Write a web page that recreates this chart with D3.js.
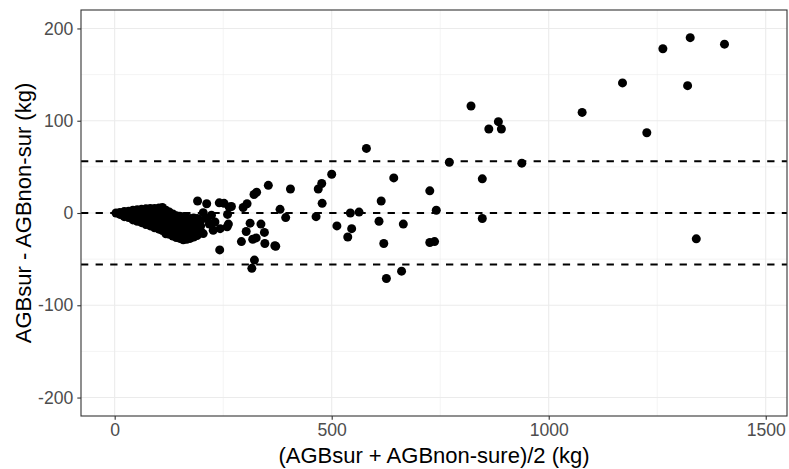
<!DOCTYPE html>
<html>
<head>
<meta charset="utf-8">
<script src="https://cdn.jsdelivr.net/npm/d3@7"></script>
<style>
  html, body { margin: 0; padding: 0; background: #fff; }
  svg { display: block; font-family: "Liberation Sans", Arial, sans-serif; }
</style>
</head>
<body>
<svg id="chart" width="789" height="469"></svg>
<script>
// ---- Data ----
// Dense cluster of small trees: mean of the two estimates (kg)
const clusterMean = [
  3,
  12, 12,
  22, 22, 22,
  32, 32, 32,
  42, 42, 42, 42,
  52, 52, 52, 52,
  62, 62, 62, 62, 62,
  72, 72, 72, 72, 72,
  82, 82, 82, 82, 82, 82,
  92, 92, 92, 92, 92, 92,
  102, 102, 102, 102, 102, 102,
  110, 110, 110, 110, 110, 110, 110,
  118, 118, 118, 118, 118, 118, 118,
  126, 126, 126, 126, 126, 126,
  134, 134, 134, 134, 134, 134,
  142, 142, 142, 142, 142, 142,
  150, 150, 150, 150, 150, 150,
  158, 158, 158, 158, 158, 158,
  166, 166, 166, 166, 166, 166,
  174, 174, 174, 174, 174,
  182, 182, 182, 182, 182,
  190, 190, 190, 190,
  198, 198, 198,
  204, 223, 231, 243, 227, 204, 212, 218
];
// Dense cluster: difference of the two estimates (kg)
const clusterDiff = [
  0,
  0.5, -1.5,
  1.5, -2, -4,
  2, -1.5, -5,
  3, -1, -4, -7.5,
  3.5, 0, -4, -9,
  4, 0, -4, -8, -10.5,
  4.5, 0.5, -4, -8, -12.5,
  5, 1, -3, -7, -11, -14,
  5, 1, -3, -8, -12, -16,
  5.5, 1.5, -3, -8, -13, -17.5,
  6, 2, -2, -6, -11, -15, -19,
  3, -1, -5, -10, -15, -20, -22.5,
  1, -3, -8, -13, -18, -23,
  -1, -5, -10, -15, -20, -25,
  -3, -7, -12, -17, -22, -26.5,
  -3.5, -8, -13, -18, -23, -27.5,
  -4, -9, -14, -19, -24, -29,
  -5.5, -10, -15, -20, -25, -28.5,
  -6, -11, -16, -21, -27.5,
  -5.5, -10, -15, -20, -26,
  -6, -12, -18, -24.5,
  -8, -14, -20,
  0.4, -2.5, -9.7, -17, -18.7, -22.3, -6, -12
];
// Scattered larger trees: mean (kg)
const scatterMean = [
  1405, 1326, 1263, 1170, 1320, 1077, 1226, 1340, 938, 821, 862, 884, 891, 847, 847,
  580, 771, 500, 643, 405, 477, 469, 478, 726, 614, 381, 394, 464, 543, 563, 741,
  512, 546, 609, 665, 537, 620, 726, 737, 369, 661, 626,
  354, 327, 321, 305, 296, 269, 191, 212, 241, 252, 264, 260, 262, 259, 312, 337,
  303, 345, 318, 326, 292, 346, 371, 242, 322, 316
];
// Scattered larger trees: difference (kg)
const scatterDiff = [
  183, 190, 178, 141, 138, 109, 87, -28, 54, 116, 91, 99, 91, 37, -6,
  70, 55, 42, 38, 26, 32, 26, 10.5, 24, 13, 4, -5, -4, 0, 1, 3,
  -14, -17, -9, -12, -26, -33, -32, -31, -35.5, -63, -71,
  30, 22.5, 20, 10, 6, 7, 13, 10, 11, 10.5, 6.5, -1.5, -12, -15, -11, -12,
  -20, -21, -28.5, -27, -31, -33, -36, -40, -51, -60
];
// Bland-Altman reference lines: mean bias and limits of agreement
const refLineValues = [0.1, 56, -55.8];

const xTicks = [0, 500, 1000, 1500];
const xMinorTicks = [250, 750, 1250];
const yTicks = [-200, -100, 0, 100, 200];
const yMinorTicks = [-150, -50, 50, 150];

const xTitle = "(AGBsur + AGBnon-sure)/2 (kg)";
const yTitle = "AGBsur - AGBnon-sur (kg)";

// ---- Layout ----
const panel = { left: 81, right: 787, top: 10, bottom: 416 };
const svg = d3.select("#chart");

const x = d3.scaleLinear().domain([-77.6, 1549]).range([panel.left, panel.right]);
const y = d3.scaleLinear().domain([-220, 220]).range([panel.bottom, panel.top]);

const grid = svg.append("g");
// minor grid
grid.selectAll(".xminor").data(xMinorTicks).enter().append("line")
  .attr("x1", d => x(d)).attr("x2", d => x(d))
  .attr("y1", panel.top).attr("y2", panel.bottom)
  .attr("stroke", "#EBEBEB").attr("stroke-width", 0.55);
grid.selectAll(".yminor").data(yMinorTicks).enter().append("line")
  .attr("y1", d => y(d)).attr("y2", d => y(d))
  .attr("x1", panel.left).attr("x2", panel.right)
  .attr("stroke", "#EBEBEB").attr("stroke-width", 0.55);
// major grid
grid.selectAll(".xmajor").data(xTicks).enter().append("line")
  .attr("x1", d => x(d)).attr("x2", d => x(d))
  .attr("y1", panel.top).attr("y2", panel.bottom)
  .attr("stroke", "#EBEBEB").attr("stroke-width", 1.1);
grid.selectAll(".ymajor").data(yTicks).enter().append("line")
  .attr("y1", d => y(d)).attr("y2", d => y(d))
  .attr("x1", panel.left).attr("x2", panel.right)
  .attr("stroke", "#EBEBEB").attr("stroke-width", 1.1);

// points
const allPoints = clusterMean.map((m, i) => [m, clusterDiff[i]])
  .concat(scatterMean.map((m, i) => [m, scatterDiff[i]]));
svg.append("g").selectAll("circle").data(allPoints).enter().append("circle")
  .attr("cx", d => x(d[0])).attr("cy", d => y(d[1]))
  .attr("r", 4.5).attr("fill", "#000");

// reference lines
svg.append("g").selectAll("line").data(refLineValues).enter().append("line")
  .attr("x1", panel.left).attr("x2", panel.right)
  .attr("y1", d => y(d)).attr("y2", d => y(d))
  .attr("stroke", "#000").attr("stroke-width", 2)
  .attr("stroke-dasharray", "7.3,7.3");

// panel border
svg.append("rect")
  .attr("x", panel.left).attr("y", panel.top)
  .attr("width", panel.right - panel.left).attr("height", panel.bottom - panel.top)
  .attr("fill", "none").attr("stroke", "#333333").attr("stroke-width", 1.1);

// axes
const fmt = d => String(d);
const xAxis = d3.axisBottom(x).tickValues(xTicks).tickSize(3.7).tickPadding(4).tickFormat(fmt);
const gx = svg.append("g").attr("transform", `translate(0,${panel.bottom})`).call(xAxis);
gx.select(".domain").remove();
gx.selectAll(".tick line").attr("stroke", "#333333").attr("stroke-width", 1.1);
gx.selectAll(".tick text").attr("fill", "#4D4D4D").attr("font-size", "17.6px")
  .attr("font-family", "Liberation Sans, Arial, sans-serif");

const yAxis = d3.axisLeft(y).tickValues(yTicks).tickSize(3.7).tickPadding(4).tickFormat(fmt);
const gy = svg.append("g").attr("transform", `translate(${panel.left},0)`).call(yAxis);
gy.select(".domain").remove();
gy.selectAll(".tick line").attr("stroke", "#333333").attr("stroke-width", 1.1);
gy.selectAll(".tick text").attr("fill", "#4D4D4D").attr("font-size", "17.6px")
  .attr("font-family", "Liberation Sans, Arial, sans-serif");

// titles
svg.append("text")
  .attr("x", (panel.left + panel.right) / 2).attr("y", 463)
  .attr("text-anchor", "middle").attr("font-size", "22px").attr("fill", "#000")
  .text(xTitle);
svg.append("text")
  .attr("transform", `translate(31,${(panel.top + panel.bottom) / 2}) rotate(-90)`)
  .attr("text-anchor", "middle").attr("font-size", "22px").attr("fill", "#000")
  .text(yTitle);
</script>
</body>
</html>
